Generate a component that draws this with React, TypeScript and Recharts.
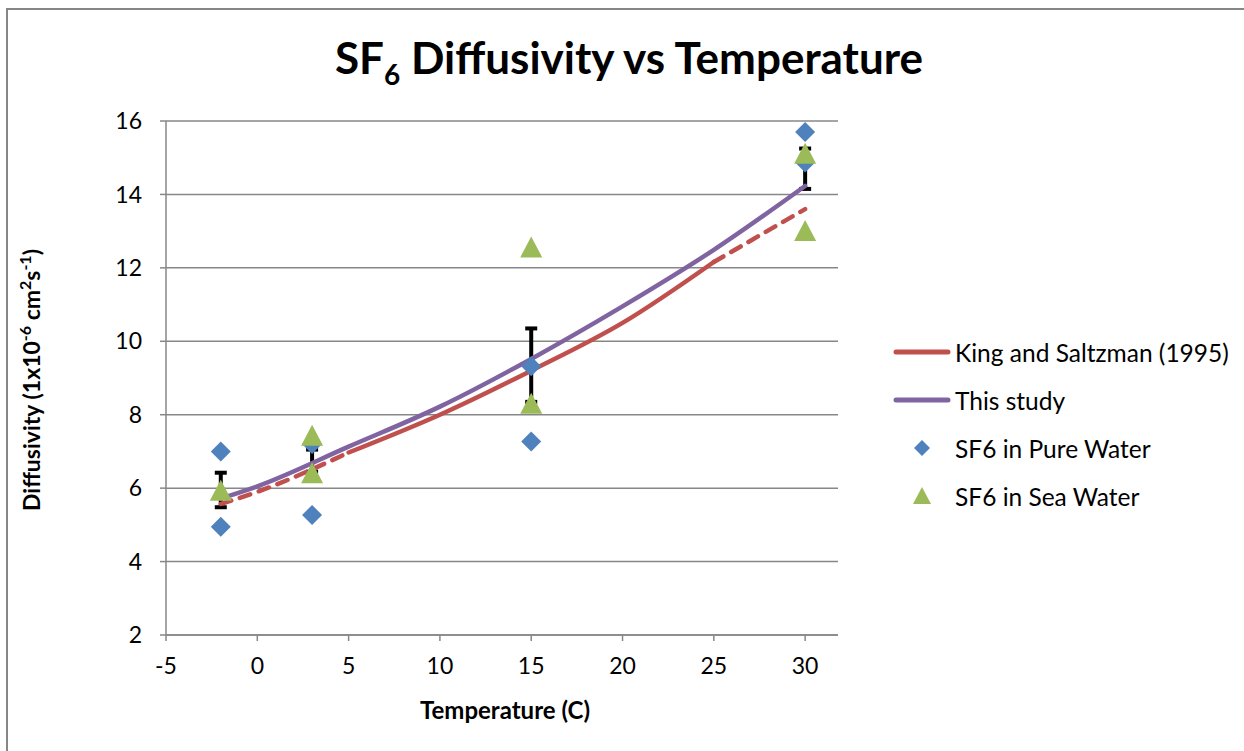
import React from 'react';
import { ComposedChart, Scatter, Line, XAxis, YAxis, CartesianGrid, ErrorBar } from 'recharts';

// ---- data ----
const pureWaterT = [-2, -2, 3, 3, 15, 15, 30, 30];
const pureWaterD = [7.0, 4.95, 7.2, 5.27, 9.32, 7.27, 15.7, 14.87];
const seaWaterT = [-2, 3, 3, 15, 15, 30, 30];
const seaWaterD = [5.9, 7.4, 6.38, 12.53, 8.27, 15.08, 12.98];
const meanT = [-2, 3, 15, 30];
const meanD = [5.95, 6.75, 9.35, 14.7];
const meanErr = [0.47, 0.3, 1.0, 0.55];
const studyT = [-2, 0, 5, 10, 15, 20, 25, 30];
const studyD = [5.72, 6.05, 7.13, 8.22, 9.52, 10.95, 12.49, 14.23];
const kingT = [-2, 0, 5, 10, 15, 20, 25, 30];
const kingD = [5.57, 5.9, 6.97, 8.0, 9.2, 10.5, 12.16, 13.6];
const xTicks = [-5, 0, 5, 10, 15, 20, 25, 30];
const yTicks = [2, 4, 6, 8, 10, 12, 14, 16];
const legendLabels = ['King and Saltzman (1995)', 'This study', 'SF6 in Pure Water', 'SF6 in Sea Water'];

const zip = (xs: number[], ys: number[]) => xs.map((x, i) => ({ x, y: ys[i] }));
const pureData = zip(pureWaterT, pureWaterD);
const seaData = zip(seaWaterT, seaWaterD);
const meanData = meanT.map((x, i) => ({ x, y: meanD[i], err: meanErr[i] }));
const studyData = zip(studyT, studyD);
const kingAll = zip(kingT, kingD);
const kingLow = kingAll.filter((p) => p.x <= 5);
const kingMid = kingAll.filter((p) => p.x >= 5 && p.x <= 25);
const kingHigh = kingAll.filter((p) => p.x >= 25);

const RED = '#C0504D';
const PURPLE = '#8064A2';
const BLUE = '#4F81BD';
const GREEN = '#9BBB59';
const GRID = '#878787';
const FONT = 'Lato, "Open Sans", sans-serif';

const Diamond = (props: any) => {
  const { cx, cy } = props;
  const r = 10;
  return <polygon points={`${cx},${cy - r} ${cx + r},${cy} ${cx},${cy + r} ${cx - r},${cy}`} fill={BLUE} />;
};
const Triangle = (props: any) => {
  const { cx, cy } = props;
  return <polygon points={`${cx},${cy - 12} ${cx + 11},${cy + 9} ${cx - 11},${cy + 9}`} fill={GREEN} />;
};
const Nothing = () => <circle r={0} />;

const YLabel = () => (
  <text transform="translate(40,380) rotate(-90)" textAnchor="middle" fontFamily={FONT} fontWeight="bold" fontSize={23} fill="#000">
    Diffusivity (1x10<tspan dy={-9} fontSize={16}>-6</tspan>
    <tspan dy={9}> cm</tspan>
    <tspan dy={-9} fontSize={16}>2</tspan>
    <tspan dy={9}>s</tspan>
    <tspan dy={-9} fontSize={16}>-1</tspan>
    <tspan dy={9}>)</tspan>
  </text>
);
const XLabel = () => (
  <text x={505} y={719} textAnchor="middle" fontFamily={FONT} fontWeight="bold" fontSize={24} fill="#000">
    Temperature (C)
  </text>
);

const LegendBox = () => (
  <div style={{ position: 'absolute', left: 890, top: 328, fontFamily: FONT, fontSize: 24.5, color: '#000' }}>
    {legendLabels.map((label, i) => (
      <div key={label} style={{ display: 'flex', alignItems: 'center', height: 48 }}>
        <svg width={64} height={24} style={{ flex: 'none' }}>
          {i === 0 && <line x1={6} y1={12} x2={58} y2={12} stroke={RED} strokeWidth={5} strokeLinecap="round" />}
          {i === 1 && <line x1={6} y1={12} x2={58} y2={12} stroke={PURPLE} strokeWidth={5} strokeLinecap="round" />}
          {i === 2 && <polygon points="32,4 40,12 32,20 24,12" fill={BLUE} />}
          {i === 3 && <polygon points="32,3 41,20 23,20" fill={GREEN} />}
        </svg>
        <span style={{ marginLeft: 1 }}>{label}</span>
      </div>
    ))}
  </div>
);

export default function App() {
  return (
    <div style={{ position: 'absolute', left: 0, top: 0, width: 1244, height: 751, overflow: 'hidden', background: '#fff' }}>
      <div style={{ position: 'absolute', left: 6, top: 8, width: 1300, height: 800, border: '2px solid #868686' }} />
      <div style={{ position: 'absolute', left: 0, top: 31, width: 1258, textAlign: 'center', fontFamily: FONT, fontWeight: 'bold', fontSize: 44, color: '#000' }}>
        SF<sub style={{ fontSize: 28, verticalAlign: 'baseline', position: 'relative', top: 11 }}>6</sub> Diffusivity vs Temperature
      </div>
      <div style={{ position: 'absolute', left: 0, top: 0 }}>
        <ComposedChart width={1244} height={751} margin={{ top: 121, right: 406, bottom: 76, left: 106 }}>
          <CartesianGrid horizontal vertical={false} stroke={GRID} strokeWidth={1.5} />
          <XAxis
            type="number"
            dataKey="x"
            domain={[-5, 31.8]}
            ticks={xTicks}
            allowDataOverflow
            height={40}
            stroke={GRID}
            strokeWidth={1.5}
            tickSize={6}
            tickMargin={17}
            tick={{ fill: '#000', fontSize: 23, fontFamily: FONT }}
            label={<XLabel />}
          />
          <YAxis
            type="number"
            dataKey="y"
            domain={[2, 16]}
            ticks={yTicks}
            width={60}
            stroke={GRID}
            strokeWidth={1.5}
            tickSize={6}
            tickMargin={18}
            tick={{ fill: '#000', fontSize: 23, fontFamily: FONT }}
            label={<YLabel />}
          />
          <Scatter data={meanData} dataKey="y" shape={<Nothing />} isAnimationActive={false} legendType="none">
            <ErrorBar dataKey="err" direction="y" width={6} stroke="#000" strokeWidth={4} />
          </Scatter>
          <Line data={kingLow} dataKey="y" type="monotone" stroke={RED} strokeWidth={4.5} strokeDasharray="11 9" strokeLinecap="round" dot={false} activeDot={false} isAnimationActive={false} />
          <Line data={kingMid} dataKey="y" type="monotone" stroke={RED} strokeWidth={4.5} strokeLinecap="round" dot={false} activeDot={false} isAnimationActive={false} />
          <Line data={kingHigh} dataKey="y" type="monotone" stroke={RED} strokeWidth={4.5} strokeDasharray="11 9" strokeLinecap="round" dot={false} activeDot={false} isAnimationActive={false} />
          <Line data={studyData} dataKey="y" type="monotone" stroke={PURPLE} strokeWidth={4.5} strokeLinecap="round" dot={false} activeDot={false} isAnimationActive={false} />
          <Scatter data={pureData} dataKey="y" shape={<Diamond />} isAnimationActive={false} />
          <Scatter data={seaData} dataKey="y" shape={<Triangle />} isAnimationActive={false} />
        </ComposedChart>
      </div>
      <LegendBox />
    </div>
  );
}
